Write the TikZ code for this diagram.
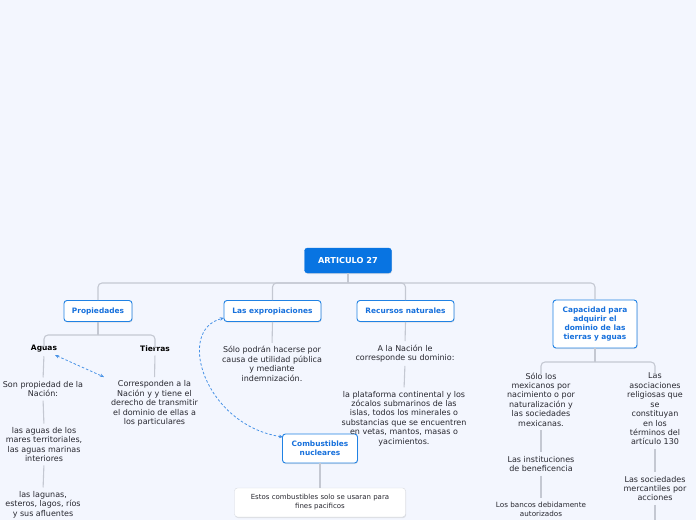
\documentclass[tikz,border=0pt]{standalone}
\usepackage{fontspec}
\setmainfont{DejaVu Sans}
\usetikzlibrary{arrows.meta,shadows}
\definecolor{bg}{RGB}{243,246,254}
\definecolor{rootblue}{RGB}{8,116,226}
\definecolor{boxblue}{RGB}{32,130,228}
\definecolor{boxtext}{RGB}{22,112,220}
\definecolor{conn}{RGB}{196,200,210}
\definecolor{textc}{RGB}{40,40,48}
\definecolor{relc}{RGB}{70,145,230}
\begin{document}
\begin{tikzpicture}[x=1pt,y=-1pt,
  rootbox/.style={draw=rootblue,fill=rootblue,rounded corners=3pt,text=white,
    font=\fontsize{8.2}{9}\selectfont\bfseries,minimum height=25pt,minimum width=87pt,
    drop shadow={opacity=0.2,shadow xshift=0.6pt,shadow yshift=-1pt}},
  topicbox/.style={draw=boxblue,line width=0.9pt,fill=white,rounded corners=3pt,text=boxtext,
    font=\fontsize{7.4}{9}\selectfont\bfseries,align=center,minimum height=21pt,
    drop shadow={opacity=0.2,shadow xshift=0.6pt,shadow yshift=-1pt}},
  notebox/.style={draw=conn!70,fill=white,rounded corners=3pt,text=textc,
    font=\fontsize{7}{9}\selectfont,align=center,minimum height=29pt,minimum width=171pt,
    drop shadow={opacity=0.2,shadow xshift=0.6pt,shadow yshift=-1pt}},
  txt/.style={text=textc,font=\fontsize{8}{9.45}\selectfont,align=center,inner sep=1pt},
  smalltxt/.style={text=textc,font=\fontsize{7.2}{9.2}\selectfont,align=center,inner sep=1pt},
  headtxt/.style={text=black,font=\fontsize{7.5}{9}\selectfont\bfseries,inner sep=1pt},
  cline/.style={draw=conn,line width=1.1pt,rounded corners=4pt},
  vline/.style={draw=conn,line width=1.1pt,shorten <=2.5pt,shorten >=2.5pt},
  rel/.style={draw=relc,line width=0.8pt,dashed,dash pattern=on 2.5pt off 2pt,
    {Stealth[length=4pt,width=3.5pt]}-{Stealth[length=4pt,width=3.5pt]}}
]
\fill[bg] (0,0) rectangle (696,520);
\useasboundingbox (0,0) rectangle (696,520);

% main nodes
\node[rootbox] (root) at (348,260.5) {ARTICULO 27};
\node[topicbox,minimum width=68pt] (prop) at (98,311) {Propiedades};
\node[topicbox,minimum width=97pt] (exp) at (272.5,311) {Las expropiaciones};
\node[topicbox,minimum width=97pt] (rec) at (405.5,311) {Recursos naturales};
\node[topicbox,minimum width=84pt,minimum height=48pt,inner xsep=2pt] (cap) at (595,324)
  {Capacidad para\\adquirir el\\dominio de las\\tierras y aguas};
\node[topicbox,minimum width=75pt,minimum height=29pt,font=\fontsize{7.4}{8.6}\selectfont\bfseries] (comb) at (320,448.5) {Combustibles\\nucleares};
\node[notebox] (estos) at (320,502.5) {Estos combustibles solo se usaran para\\fines pacificos};

\coordinate (hub) at (348,283);
\coordinate (hubp) at (98,335);
\coordinate (hubc) at (595,362);

% Propiedades
\node[headtxt] (aguas) at (44,349) {Aguas};
\node[headtxt] (tierras) at (155,349) {Tierras};
\node[txt] (son) at (43,389) {Son propiedad de la\\Nación:};
\node[txt] (mares) at (44,444.5) {las aguas de los\\mares territoriales,\\las aguas marinas\\interiores};
\node[txt] (lagunas) at (43,504.5) {las lagunas,\\esteros, lagos, ríos\\y sus afluentes};
\node[txt] (corr) at (154.5,403.5) {Corresponden a la\\Nación y y tiene el\\derecho de transmitir\\el dominio de ellas a\\los particulares};

% expropiaciones
\node[txt] (solo) at (272,364) {Sólo podrán hacerse por\\causa de utilidad pública\\y mediante\\indemnización.};

% recursos
\node[txt] (nacion) at (405,353.5) {A la Nación le\\corresponde su dominio:};
\node[txt] (plat) at (404,418.5) {la plataforma continental y los\\zócalos submarinos de las\\islas, todos los minerales o\\substancias que se encuentren\\en vetas, mantos, masas o\\yacimientos.};

% capacidad
\node[txt] (mex) at (541,399.5) {Sólo los\\mexicanos por\\nacimiento o por\\naturalización y\\las sociedades\\mexicanas.};
\node[txt] (inst) at (541,464) {Las instituciones\\de beneficencia};
\node[smalltxt] (bancos) at (541,509.5) {Los bancos debidamente\\autorizados};
\node[txt] (asoc) at (655,409) {Las\\asociaciones\\religiosas que\\se\\constituyan\\en los\\términos del\\artículo 130};
\node[txt] (socm) at (655,488.5) {Las sociedades\\mercantiles por\\acciones};
\coordinate (socmend) at (655,520);

% connectors from root
\draw[cline] (root.south) -- (hub);
\draw[cline] (prop.north) |- (hub) -| (cap.north);
\draw[cline] (exp.north) |- (hub);
\draw[cline] (rec.north) |- (hub);

% Propiedades subtree
\draw[cline] (prop.south) -- (hubp);
\draw[cline] (hubp) -| ([yshift=-3pt]aguas.north);
\draw[cline] (hubp) -| ([yshift=-3pt]tierras.north);
\draw[vline] (aguas.south) -- (son.north);
\draw[vline] (son.south) -- (mares.north);
\draw[vline] (mares.south) -- (lagunas.north);
\draw[vline] (tierras.south) -- (corr.north);

% others
\draw[vline,shorten <=0pt] (exp.south) -- (solo.north);
\draw[vline,shorten <=0pt] (rec.south) -- (nacion.north);
\draw[vline] (nacion.south) -- (plat.north);
\draw[vline,shorten <=0pt,shorten >=0pt] (comb.south) -- (estos.north);

% Capacidad subtree
\draw[cline] (cap.south) -- (hubc);
\draw[cline] (hubc) -| ([yshift=-3pt]mex.north);
\draw[cline] (hubc) -| ([yshift=-3pt]asoc.north);
\draw[vline] (mex.south) -- (inst.north);
\draw[vline] (inst.south) -- (bancos.north);
\draw[vline] (asoc.south) -- (socm.north);
\draw[vline,shorten >=0pt] (socm.south) -- (socmend);

% relationships
\coordinate (relA1) at (55,355);
\coordinate (relA2) at (104,377);
\draw[rel] (relA1) -- (relA2);
\coordinate (relB1) at (283,437);
\coordinate (relB2) at (224,318);
\draw[rel] (relB1) .. controls (205,425) and (175,330) .. (relB2);
\end{tikzpicture}
\end{document}
